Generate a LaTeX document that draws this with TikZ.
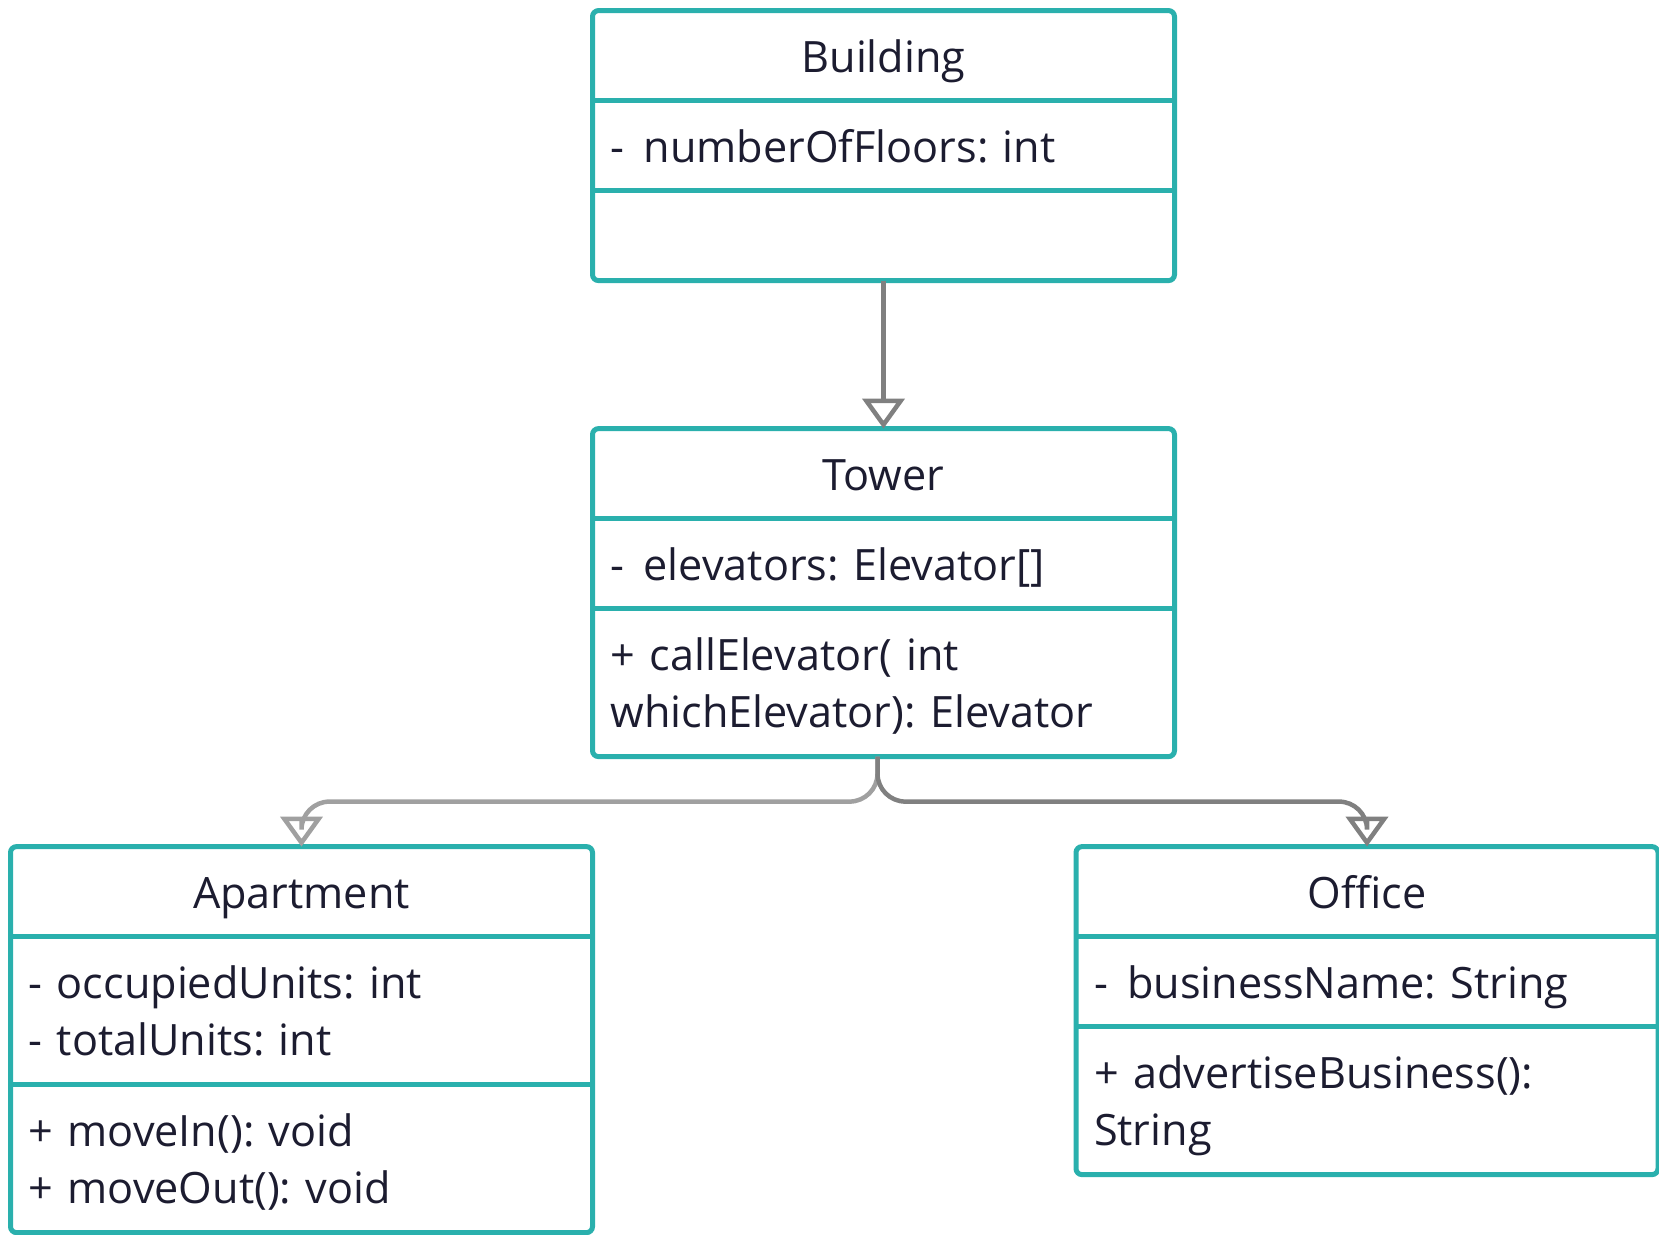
\documentclass[tikz,border=0pt]{standalone}
\usepackage{fontspec}
\setmainfont{Open Sans}
\usetikzlibrary{arrows.meta,positioning,fit}

\definecolor{umlteal}{HTML}{2AB0AD}
\definecolor{umltext}{HTML}{1C1C30}
\definecolor{linkdark}{HTML}{808080}
\definecolor{linklight}{HTML}{A0A0A0}

\begin{document}
\frenchspacing
\begin{tikzpicture}[
  x=1pt, y=1pt,
  sect/.style={minimum width=291pt, minimum height=45pt, text width=273pt,
    inner xsep=9pt, inner ysep=0pt, outer sep=0pt, align=left, anchor=north,
    text height=17pt, text depth=0pt,
    text=umltext, font=\fontsize{21.6}{28.5}\selectfont},
  head/.style={sect, align=center},
  twoline/.style={sect, minimum height=74pt, text depth=29pt},
  frame/.style={draw=umlteal, line width=2.5pt, rounded corners=3pt, inner sep=0pt},
  divider/.style={draw=umlteal, line width=2.5pt},
  inh/.style={-{Triangle[open, length=15pt, width=21pt]}, line width=2.25pt,
    rounded corners=14pt},
  node distance=0pt,
]
\useasboundingbox (0,0) rectangle (829.5,-617.5);

% --- Building ---
\node[head] (building-head) at (441.75,-5.3) {Building};
\node[sect, below=of building-head] (building-attr) {-\hspace{9.6pt}numberOfFloors: int};
\node[sect, below=of building-attr] (building-ops)  {};

% --- Tower ---
\node[head, below=74pt of building-ops]  (tower-head) {Tower};
\node[sect, below=of tower-head]         (tower-attr) {-\hspace{9.6pt}elevators: Elevator[]};
\node[twoline, below=of tower-attr]      (tower-ops)  {+ callElevator( int\\whichElevator): Elevator};

% --- Apartment ---
\node[head, below=45pt of tower-ops.south, xshift=-291pt] (apartment-head) {Apartment};
\node[twoline, below=of apartment-head] (apartment-attr) {- occupiedUnits: int\\- totalUnits: int};
\node[twoline, below=of apartment-attr] (apartment-ops)  {+ moveIn(): void\\+ moveOut(): void};

% --- Office ---
\node[head, below=45pt of tower-ops.south, xshift=241.75pt] (office-head) {Office};
\node[sect, below=of office-head]     (office-attr) {-\hspace{9.6pt}businessName: String};
\node[twoline, below=of office-attr]  (office-ops)  {+ advertiseBusiness():\\String};

% --- Class frames and dividers ---
\foreach \c in {building,tower,apartment,office} {
  \node[frame, fit=(\c-head)(\c-ops)] {};
  \draw[divider] (\c-head.south west) -- (\c-head.south east);
  \draw[divider] (\c-attr.south west) -- (\c-attr.south east);
}

% --- Inheritance ---
\coordinate (split) at ([shift={(-3pt,-22.5pt)}]tower-ops.south);
\draw[inh, draw=linkdark] (building-ops) -- (tower-head);
\draw[inh, draw=linklight] ([xshift=-3pt]tower-ops.south) -- (split) -| (apartment-head);
\draw[inh, draw=linkdark]  ([xshift=-3pt]tower-ops.south) -- (split) -| (office-head);
\end{tikzpicture}
\end{document}
